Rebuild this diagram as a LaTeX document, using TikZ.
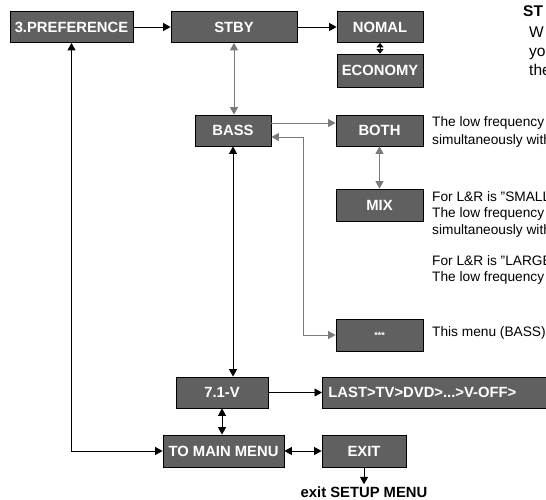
\documentclass[tikz,border=0pt]{standalone}
\usepackage{fontspec}
\setmainfont{Liberation Sans}
\usetikzlibrary{arrows.meta}

\definecolor{boxgray}{HTML}{606060}
\definecolor{linegray}{HTML}{7A7A7A}

\begin{document}
\begin{tikzpicture}[x=1pt, y=-1pt,
    menubox/.style={draw=black, line width=0.8pt, fill=boxgray, text=white,
      font=\fontsize{14.8}{16}\selectfont\bfseries, minimum height=31pt, inner sep=0pt},
    note/.style={anchor=base west, inner sep=0pt, font=\fontsize{13.7}{16}\selectfont},
    link/.style={line width=0.9pt, -{Triangle[length=7.5pt,width=8pt]}},
    twoway/.style={line width=0.9pt, {Triangle[length=7.5pt,width=8pt]}-{Triangle[length=7.5pt,width=8pt]}},
    shortway/.style={line width=0.9pt, {Triangle[length=4.5pt,width=7pt]}-{Triangle[length=4.5pt,width=7pt]}}]
      \clip (0,0) rectangle (546,500);

      % Menu boxes
      \node[menubox, minimum width=123pt] (pref) at (71.5,27) {3.PREFERENCE};
      \node[menubox, minimum width=126pt] (stby) at (234,27) {STBY};
      \node[menubox, minimum width=86pt] (nomal) at (380,27) {NOMAL};
      \node[menubox, minimum width=86pt, minimum height=33pt] (economy) at (380,70.5) {ECONOMY};
      \node[menubox, minimum width=76pt] (bass) at (233,130.5) {BASS};
      \node[menubox, minimum width=87pt] (both) at (379.5,130.5) {BOTH};
      \node[menubox, minimum width=87pt, minimum height=32pt] (mix) at (379.5,205) {MIX};
      \node[menubox, minimum width=87pt, minimum height=32pt,
        font=\fontsize{9}{10}\selectfont\bfseries] (stars) at (379.5,335) {***};
      \node[menubox, minimum width=92pt] (v71) at (222,392.5) {7.1-V};
      \node[menubox, anchor=west, text width=250pt, align=left, inner xsep=6pt]
        (last) at (322,392.5) {LAST>TV>DVD>...>V-OFF>};
      \node[menubox, minimum width=121pt, minimum height=32pt] (tomain) at (223.5,451) {TO MAIN MENU};
      \node[menubox, minimum width=84pt, minimum height=32pt] (exit) at (364,451) {EXIT};
      \node[inner sep=0pt, inner ysep=2.5pt, font=\fontsize{14.8}{16}\selectfont\bfseries]
        (exitlbl) at (364,492.5) {exit SETUP MENU};

      % Notes
      \node[note, font=\fontsize{15.5}{17}\selectfont\bfseries] (stbyhead) at (523,17) {ST};
      \node[note, font=\fontsize{15.5}{17}\selectfont] (stbya) at (529,38) {W};
      \node[note, font=\fontsize{15.5}{17}\selectfont] (stbyb) at (529,57) {yo};
      \node[note, font=\fontsize{15.5}{17}\selectfont] (stbyc) at (529,76) {the};
      \node[note] (botha) at (432,127) {The low frequency};
      \node[note] (bothb) at (432,144) {simultaneously with};
      \node[note] (mixa) at (432,201) {For L\&R is "SMALL};
      \node[note] (mixb) at (432,217.5) {The low frequency};
      \node[note] (mixc) at (432,234) {simultaneously with};
      \node[note] (mixd) at (432,265) {For L\&R is "LARGE};
      \node[note] (mixe) at (432,281) {The low frequency};
      \node[note] (starsa) at (432,336) {This menu (BASS)};

      % Connectors
      \coordinate (bend) at (303,335);
      \draw[link] (pref) -- (stby);
      \draw[link] (stby) -- (nomal);
      \draw[shortway] (nomal) -- (economy);
      \draw[twoway, linegray] (stby.south) -- (stby.south |- bass.north);
      \draw[link, linegray] ([yshift=7.5pt]bass.east) -- ([yshift=7.5pt]bass.east -| both.west);
      \draw[twoway, linegray] (both) -- (mix);
      \draw[twoway, linegray] ([yshift=-6.5pt]bass.east) -| (bend) -- (stars.west);
      \draw[twoway] (bass.south) -- (bass.south |- v71.north);
      \draw[link] (v71) -- (last);
      \draw[twoway] (v71.south) -- (v71.south |- tomain.north);
      \draw[twoway] (tomain) -- (exit);
      \draw[twoway] (pref.south) |- (tomain.west);
      \draw[link] (exit) -- (exitlbl);
  \end{tikzpicture}
\end{document}
